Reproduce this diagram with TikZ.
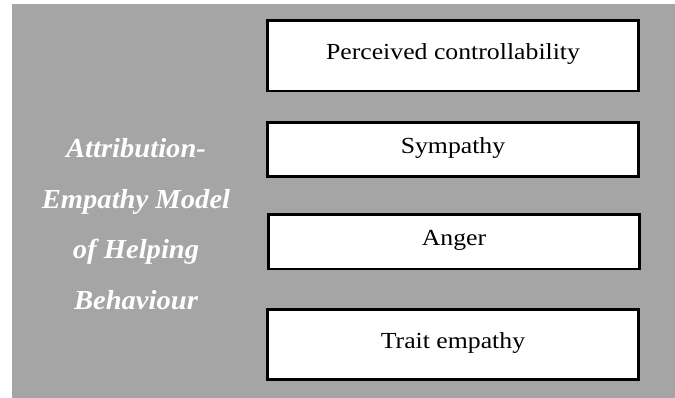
\documentclass[tikz,border=0pt]{standalone}
\usepackage{fontspec}
\setmainfont{Liberation Serif}
\newfontfamily\boxfont[FakeStretch=1.12]{Liberation Serif}
\newfontfamily\titlefont[FakeStretch=1.04,BoldItalicFont={Liberation Serif Bold Italic}]{Liberation Serif}
\usepackage{xcolor}
\definecolor{panelgray}{RGB}{165,165,165}

\begin{document}
\begin{tikzpicture}[x=1pt,y=-1pt,
    factor/.style={draw=black,fill=white,line width=2.7pt,rectangle,
        minimum width=371.3pt,inner sep=0pt,text height=16pt,text depth=8pt,
        font=\boxfont\fontsize{23}{27}\selectfont},
    modeltitle/.style={align=center,text=white,inner sep=0pt,
        font=\titlefont\fontsize{27.5}{50.7}\selectfont\bfseries\itshape}]
    \useasboundingbox (0,0) rectangle (675,398);
    \fill[panelgray] (11.5,4) rectangle (675,397.5);

    % the four factors
    \node[factor,minimum height=70.6pt] (control) at (453,55.7) {Perceived controllability};
    \node[factor,minimum height=54.3pt] (sympathy) at (453,149.5) {Sympathy};
    \node[factor,minimum height=54.8pt] (anger) at (454,241.7) {Anger};
    \node[factor,minimum height=70.3pt] (trait) at (453,344.5) {Trait empathy};

    % model name
    \node[modeltitle] (model) at (136,224) {Attribution-\\Empathy Model\\of Helping\\Behaviour};
\end{tikzpicture}
\end{document}
